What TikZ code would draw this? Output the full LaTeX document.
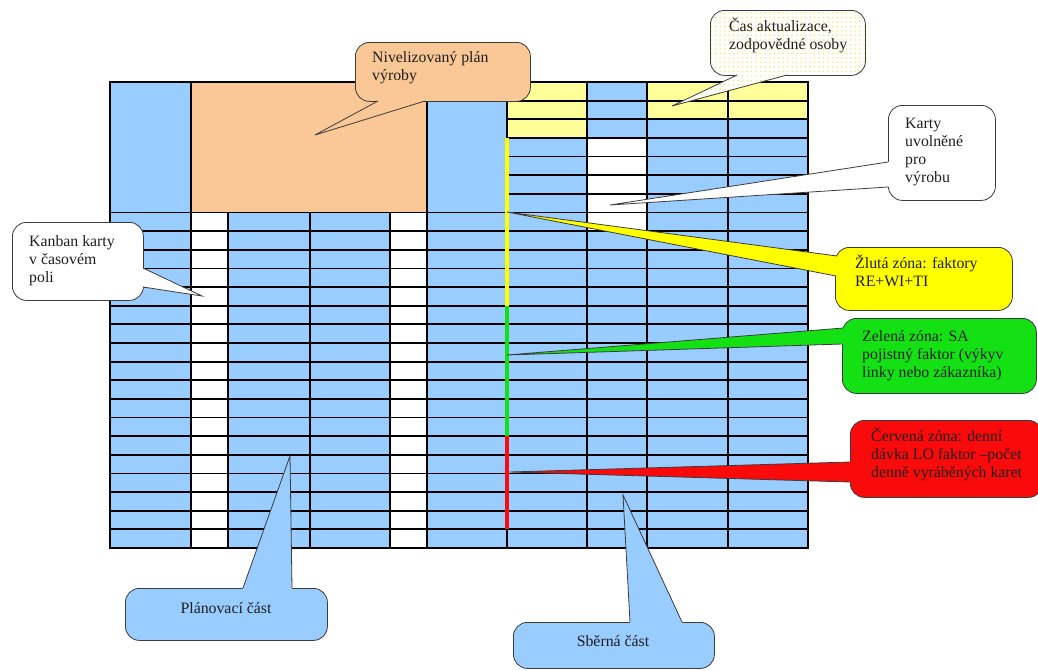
\documentclass[tikz,border=0pt]{standalone}
\usepackage{fontspec}
\setmainfont{Liberation Serif}
\usetikzlibrary{calc,patterns.meta}

\definecolor{cellblue}{HTML}{99CCFF}
\definecolor{planorange}{HTML}{F9C896}
\definecolor{paleyellow}{HTML}{FFFF99}
\definecolor{zoneyellow}{HTML}{FFFF00}
\definecolor{zonegreen}{RGB}{20,225,20}
\definecolor{zonered}{RGB}{250,10,10}
\definecolor{edgegray}{RGB}{60,60,60}
\definecolor{dotyellow}{RGB}{238,232,60}

\tikzset{
  gridline/.style={line width=1.8pt, black},
  zoneline/.style={line width=3.3pt},
  callbox/.style={draw=edgegray, line width=0.8pt, rounded corners=14pt,
    inner sep=0pt, anchor=north west},
  wedgeline/.style={draw=edgegray, line width=0.8pt, line join=miter},
  calltext/.style={font=\fontsize{15.8}{18}\selectfont, align=left,
    anchor=north west, inner sep=0pt, text=black!88},
  centertext/.style={font=\fontsize{15.8}{18}\selectfont, inner sep=0pt,
    text=black!88},
  dotfill/.style={preaction={fill=white},
    pattern={Dots[radius=0.75pt,distance=4.5pt]}, pattern color=dotyellow},
}

% pointer of a speech bubble: fill style, tip, base point 1, base point 2
\newcommand\calloutwedge[4]{%
  \fill[#1] (#2) -- ($(#2)!1.06!(#3)$) -- ($(#2)!1.06!(#4)$) -- cycle;
  \draw[wedgeline] (#3) -- (#2) -- (#4);
}

\begin{document}
\begin{tikzpicture}[x=1pt,y=-1pt]
\useasboundingbox (0,0) rectangle (1038,670);
\def\rh{18.64}

% ---------- board cells ----------
% planning part, upper block
\fill[cellblue]   (110,82) rectangle (191,{82+7*\rh});
\fill[planorange] (191,82) rectangle (427,{82+7*\rh});
\fill[cellblue]   (427,82) rectangle (507,{82+7*\rh});
% planning part, time slots
\fill[cellblue] (110,{82+7*\rh}) rectangle (507,548);
\fill[white]    (191,{82+7*\rh}) rectangle (228,548);
\fill[white]    (390,{82+7*\rh}) rectangle (427,548);
% collecting part
\fill[cellblue]   (507,82) rectangle (808,548);
\fill[paleyellow] (507,82) rectangle (587,{82+3*\rh});
\fill[paleyellow] (647,82) rectangle (808,{82+2*\rh});
\fill[white]      (587,{82+3*\rh}) rectangle (647,{82+8*\rh});

% ---------- board lines ----------
\foreach \k in {1,...,24}
  \draw[gridline] (507,{82+\k*\rh}) -- (808,{82+\k*\rh});
\foreach \k in {7,...,24}
  \draw[gridline] (110,{82+\k*\rh}) -- (507,{82+\k*\rh});
\foreach \x in {191,427,587,647,728}
  \draw[gridline] (\x,82) -- (\x,548);
\foreach \x in {228,310,390}
  \draw[gridline] (\x,{82+7*\rh}) -- (\x,548);
\draw[gridline] (507,82) -- (507,548);
\draw[gridline] (110,82) rectangle (808,548);

% zone marks on the collecting column
\coordinate (zY0) at (507,{82+3*\rh});
\coordinate (zY1) at (507,{82+12*\rh});
\coordinate (zG1) at (507,{82+19*\rh});
\coordinate (zR1) at (507,{82+24*\rh});
\draw[zoneline, zoneyellow] (zY0) -- (zY1);
\draw[zoneline, zonegreen]  (zY1) -- (zG1);
\draw[zoneline, zonered]    (zG1) -- (zR1);

% ---------- callouts ----------
% levelled production plan
\node[callbox, fill=planorange, minimum width=175pt, minimum height=59pt]
  (niv) at (355,42) {};
\coordinate (nivTip) at (315,135);
\coordinate (nivA) at (378,101);
\coordinate (nivB) at (425,101);
\calloutwedge{planorange}{nivTip}{nivA}{nivB}
\node[calltext] (nivText) at (372,51) {Nivelizovaný plán\\výroby};

% update time
\node[callbox, dotfill, minimum width=155pt, minimum height=65pt]
  (cas) at (710,10) {};
\coordinate (casTip) at (672,106);
\coordinate (casA) at (737,75);
\coordinate (casB) at (787,75);
\calloutwedge{dotfill}{casTip}{casA}{casB}
\node[calltext] (casText) at (729,18) {Čas aktualizace,\\zodpovědné osoby};

% released cards
\node[callbox, fill=white, minimum width=107pt, minimum height=95pt]
  (karty) at (888,105) {};
\coordinate (kartyTip) at (610,205);
\coordinate (kartyA) at (888,162);
\coordinate (kartyB) at (888,187);
\calloutwedge{white}{kartyTip}{kartyA}{kartyB}
\node[calltext] (kartyText) at (905,118) {Karty\\uvolněné\\pro\\výrobu};

% kanban cards in the time field
\node[callbox, fill=white, minimum width=131pt, minimum height=78pt]
  (kanban) at (12,222) {};
\coordinate (kanbanTip) at (202,296);
\coordinate (kanbanA) at (143,268);
\coordinate (kanbanB) at (143,287);
\calloutwedge{white}{kanbanTip}{kanbanA}{kanbanB}
\node[calltext] (kanbanText) at (29,235) {Kanban karty\\v časovém\\poli};

% yellow zone
\node[callbox, fill=zoneyellow, minimum width=177pt, minimum height=63pt]
  (yel) at (835,247) {};
\coordinate (yelTip) at (507,212);
\coordinate (yelA) at (837,256);
\coordinate (yelB) at (836,276);
\calloutwedge{zoneyellow}{yelTip}{yelA}{yelB}
\node[calltext] (yelText) at (855,255) {Žlutá zóna: faktory\\RE+WI+TI};

% green zone
\node[callbox, fill=zonegreen, minimum width=194pt, minimum height=75pt]
  (grn) at (842,318) {};
\coordinate (grnTip) at (507,355);
\coordinate (grnA) at (843,328);
\coordinate (grnB) at (842,344);
\calloutwedge{zonegreen}{grnTip}{grnA}{grnB}
\node[calltext] (grnText) at (862,330)
  {Zelená zóna: SA\\pojistný faktor (výkyv\\linky nebo zákazníka)};

% red zone
\node[callbox, fill=zonered, minimum width=192pt, minimum height=77pt]
  (red) at (850,420) {};
\coordinate (redTip) at (510,472);
\coordinate (redA) at (850,462);
\coordinate (redB) at (850,482);
\calloutwedge{zonered}{redTip}{redA}{redB}
\node[calltext] (redText) at (871,428)
  {Červená zóna: denní\\dávka LO faktor –počet\\denně vyráběných karet};

% planning part
\node[callbox, fill=cellblue, minimum width=202pt, minimum height=52pt]
  (plan) at (125,588) {};
\coordinate (planTip) at (290,456);
\coordinate (planA) at (243,588);
\coordinate (planB) at (292,588);
\calloutwedge{cellblue}{planTip}{planA}{planB}
\node[centertext] (planText) at (226,608) {Plánovací část};

% collecting part
\node[callbox, fill=cellblue, minimum width=201pt, minimum height=46pt]
  (sber) at (513,622) {};
\coordinate (sberTip) at (623,495);
\coordinate (sberA) at (630,622);
\coordinate (sberB) at (682,622);
\calloutwedge{cellblue}{sberTip}{sberA}{sberB}
\node[centertext] (sberText) at (613,641) {Sběrná část};
\end{tikzpicture}
\end{document}
